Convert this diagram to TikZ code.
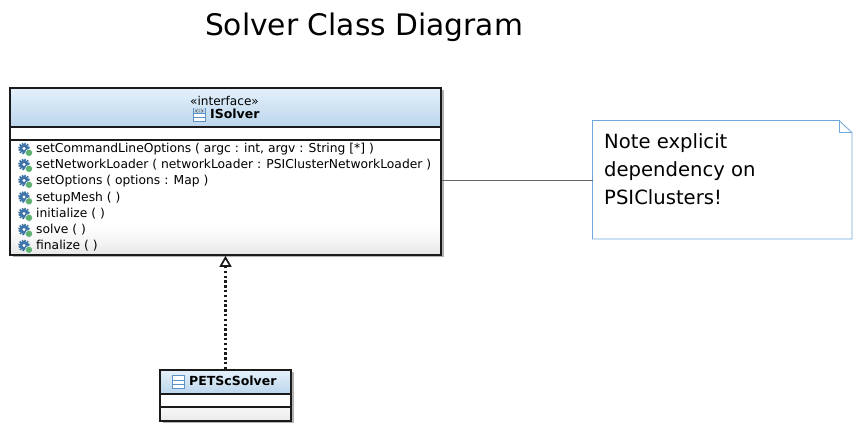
\documentclass[tikz,border=0pt]{standalone}
\usepackage{fontspec}
\setmainfont{DejaVu Sans}
\usetikzlibrary{arrows.meta,shadows}
\definecolor{head top}{HTML}{E4F0FB}
\definecolor{head bottom}{HTML}{BBD6EC}
\definecolor{note edge}{HTML}{6FA8DC}
\definecolor{gear blue}{HTML}{3F74A8}
\definecolor{dot green}{HTML}{5DB070}
\definecolor{icon blue}{HTML}{5B93C9}
\definecolor{frame dark}{HTML}{1A1A1A}
\pgfdeclareverticalshading{opsfade}{100bp}{color(0bp)=(black!10); color(25bp)=(black!10); color(31bp)=(black!4); color(38bp)=(white); color(100bp)=(white)}
\pgfdeclareverticalshading{opsfadeshort}{100bp}{color(0bp)=(black!8); color(25bp)=(black!8); color(75bp)=(black!3); color(100bp)=(black!3)}
\tikzset{
  classframe/.style={draw=frame dark, line width=1.7pt, fill=white, inner sep=0pt, drop shadow={shadow xshift=2.5pt, shadow yshift=-2.5pt, opacity=.3, fill=black}},
  headbox/.style={draw=frame dark, line width=1.7pt, top color=head top, bottom color=head bottom, inner sep=0pt},
  attrbox/.style={draw=frame dark, line width=1.7pt, fill=white, inner sep=0pt},
  opsbox/.style={draw=frame dark, line width=1.7pt, shading=opsfade, inner sep=0pt},
  oplabel/.style={anchor=base west, inner sep=0pt, font=\fontsize{12.3}{12.3}\selectfont},
  namelabel/.style={anchor=base west, inner sep=0pt, font=\fontsize{12.5}{12.5}\bfseries\selectfont},
}
\newcommand{\opicon}[2]{%
  \draw[gear blue, line width=1.6pt, dash pattern=on 1.6pt off 1.1pt] (#1,#2) circle (5.2);
  \fill[gear blue] (#1,#2) circle (4.6);
  \fill[white] (#1,#2) circle (1.7);
  \draw[white, line width=.5pt, fill=dot green] (#1+5,#2+4.3) circle (3.6);
}
\newcommand{\typeicon}[4]{%
  \draw[icon blue, fill=white, line width=.8pt] (#1,#2) rectangle (#3,#4);
  \draw[icon blue, line width=.8pt] (#1,#4-3.6) -- (#3,#4-3.6) (#1,#4-7.2) -- (#3,#4-7.2);
}
\begin{document}
\begin{tikzpicture}[x=1pt, y=-1pt]
\useasboundingbox (0,0) rectangle (863,435);

\node[font=\fontsize{29.7}{29.7}\selectfont] (title) at (364,27) {Solver Class Diagram};

% interface box
\node[classframe, minimum width=431pt, minimum height=167pt] (isolver) at (225.5,171.5) {};
\node[headbox, minimum width=431pt, minimum height=39pt] (isolverhead) at (225.5,107.5) {};
\node[attrbox, minimum width=431pt, minimum height=13pt] (isolverattr) at (225.5,133.5) {};
\node[opsbox, minimum width=431pt, minimum height=115pt] (isolverops) at (225.5,197.5) {};

\node[font=\fontsize{12.1}{12.1}\selectfont, inner sep=0pt] (stereotype) at (224.5,101) {«interface»};
\node[namelabel] (isolvername) at (210,119) {ISolver};
\typeicon{193.5}{108}{205}{121}
\fill[icon blue!40] (194,108.5) rectangle (204.5,113.5);
\draw[black!70, line width=.5pt] (197.5,109.5) -- (195.5,111) -- (197.5,112.5) (199.2,109.5) -- (199.2,112.5) (201,109.5) -- (203,111) -- (201,112.5);

\foreach \y/\optext in {153/{setCommandLineOptions ( argc : int, argv : String [*] )},
                        169/{setNetworkLoader ( networkLoader : PSIClusterNetworkLoader )},
                        185/{setOptions ( options : Map )},
                        201.5/{setupMesh ( )},
                        218/{initialize ( )},
                        234/{solve ( )},
                        250/{finalize ( )}}
{
  \opicon{24}{\y-4.5}
  \node[oplabel] at (36,\y) {\optext};
}

% implementing class
\node[classframe, minimum width=131pt, minimum height=51pt] (petsc) at (225.5,395.5) {};
\node[headbox, minimum width=131pt, minimum height=24pt] (petschead) at (225.5,382) {};
\node[attrbox, minimum width=131pt, minimum height=13pt] (petscattr) at (225.5,400.5) {};
\node[opsbox, shading=opsfadeshort, minimum width=131pt, minimum height=14pt] (petscops) at (225.5,414) {};
\typeicon{172.5}{375.5}{184}{388}
\node[namelabel] (petscname) at (189,386) {PETScSolver};

\draw[frame dark, line width=2.4pt, dash pattern=on 2.4pt off 2.4pt, -{Triangle[open, length=11pt, width=12pt, line width=1.7pt, sep=0pt]}] (petsc.north) -- (isolver.south);

% note
\coordinate (notesw) at (592.5,239);
\draw[note edge, fill=white, line width=.8pt] (notesw) -- (592.5,120.5) -- (839,120.5) -- (852,132.5) -- (852,239) -- cycle;
\draw[note edge, line width=.8pt] (839,120.5) -- (839,132.5) -- (852,132.5);
\coordinate (noteleft) at (592.5,180);
\draw[black!60, line width=.7pt] (isolver.east |- noteleft) -- (noteleft);
\foreach \y/\notetext in {149/Note explicit, 177/dependency on, 205/PSIClusters!}
\node[anchor=base west, inner sep=0pt, font=\fontsize{19.6}{19.6}\selectfont] at (604,\y) {\notetext};
\end{tikzpicture}
\end{document}
